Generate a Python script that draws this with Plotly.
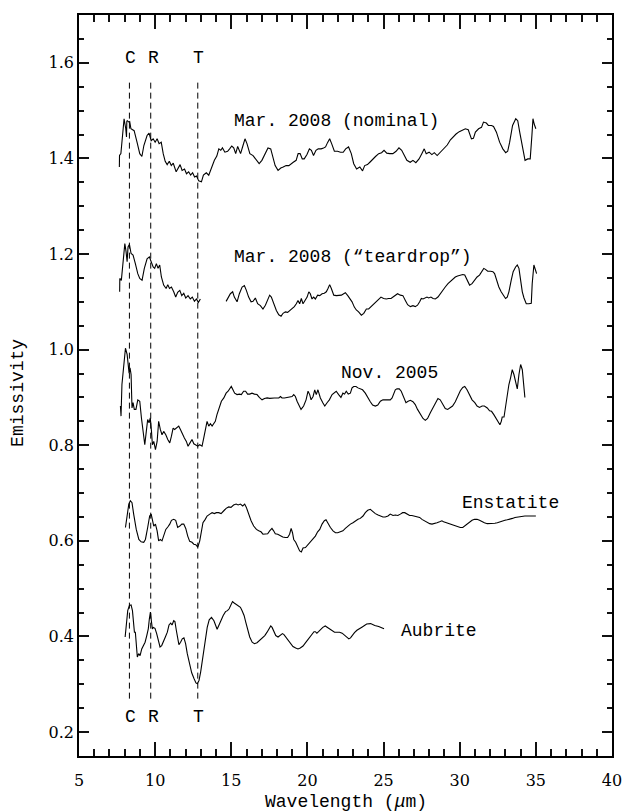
import plotly.graph_objects as go

# ---------------- data ----------------
nominal_x = [7.65, 7.66, 7.75, 7.88, 7.96, 8.07, 8.12, 8.14, 8.17, 8.28,
             8.33, 8.41, 8.62, 8.81, 8.99, 9.13, 9.26, 9.47, 9.60, 9.74,
             9.87, 10.00, 10.13, 10.26, 10.40, 10.53, 10.66, 10.79, 10.93, 11.06,
             11.19, 11.38, 11.51, 11.64, 11.77, 11.93, 12.06, 12.20, 12.33, 12.46,
             12.59, 12.72, 12.86, 13.04, 13.17, 13.36, 13.52, 13.70, 13.89, 14.05,
             14.18, 14.31, 14.42, 14.58, 14.76, 14.89, 15.03, 15.16, 15.29, 15.42,
             15.61, 15.77, 15.90, 16.03, 16.22, 16.43, 16.61, 16.83, 17.01, 17.20,
             17.41, 17.59, 17.72, 17.88, 18.07, 18.25, 18.41, 18.60, 18.78, 18.92,
             19.07, 19.26, 19.39, 19.52, 19.66, 19.79, 19.97, 20.13, 20.26, 20.40,
             20.56, 20.71, 20.90, 21.06, 21.19, 21.32, 21.46, 21.59, 21.77, 21.98,
             22.17, 22.35, 22.51, 22.70, 22.88, 23.04, 23.23, 23.44, 23.62, 23.76,
             23.94, 24.10, 24.29, 24.47, 24.68, 24.87, 25.03, 25.21, 25.40, 25.61,
             25.82, 26.01, 26.19, 26.35, 26.53, 26.75, 26.93, 27.12, 27.33, 27.51,
             27.67, 27.80, 27.99, 28.17, 28.33, 28.52, 28.70, 28.92, 29.18, 29.39,
             29.58, 29.76, 29.97, 30.19, 30.37, 30.56, 30.77, 30.90, 31.03, 31.24,
             31.43, 31.56, 31.75, 31.88, 32.09, 32.22, 32.41, 32.62, 32.83, 33.02,
             33.15, 33.28, 33.47, 33.68, 33.81, 33.94, 34.13, 34.29, 34.47, 34.63,
             34.74, 34.81, 34.89, 35.00]
nominal_y = [1.382, 1.406, 1.410, 1.469, 1.483, 1.462, 1.445, 1.478, 1.479, 1.476,
             1.477, 1.462, 1.458, 1.434, 1.410, 1.404, 1.427, 1.448, 1.453, 1.437,
             1.441, 1.434, 1.441, 1.431, 1.434, 1.410, 1.394, 1.387, 1.394, 1.385,
             1.390, 1.372, 1.379, 1.387, 1.375, 1.378, 1.368, 1.372, 1.365, 1.370,
             1.361, 1.363, 1.353, 1.351, 1.365, 1.370, 1.365, 1.382, 1.396, 1.405,
             1.420, 1.417, 1.422, 1.413, 1.415, 1.420, 1.426, 1.422, 1.410, 1.425,
             1.410, 1.427, 1.441, 1.431, 1.410, 1.406, 1.399, 1.389, 1.396, 1.410,
             1.422, 1.420, 1.406, 1.385, 1.375, 1.380, 1.382, 1.385, 1.385, 1.389,
             1.392, 1.396, 1.410, 1.410, 1.399, 1.399, 1.408, 1.420, 1.417, 1.406,
             1.417, 1.420, 1.420, 1.422, 1.424, 1.433, 1.441, 1.431, 1.415, 1.415,
             1.413, 1.413, 1.420, 1.424, 1.410, 1.389, 1.378, 1.382, 1.374, 1.385,
             1.387, 1.392, 1.399, 1.404, 1.410, 1.412, 1.417, 1.411, 1.410, 1.410,
             1.415, 1.422, 1.417, 1.406, 1.396, 1.392, 1.396, 1.391, 1.399, 1.410,
             1.420, 1.410, 1.413, 1.408, 1.412, 1.406, 1.412, 1.420, 1.428, 1.439,
             1.446, 1.451, 1.456, 1.460, 1.462, 1.460, 1.441, 1.442, 1.455, 1.462,
             1.465, 1.476, 1.474, 1.469, 1.469, 1.467, 1.455, 1.434, 1.420, 1.412,
             1.415, 1.434, 1.469, 1.483, 1.479, 1.455, 1.420, 1.396, 1.399, 1.399,
             1.448, 1.483, 1.472, 1.462]

teardrop_a_x = [7.67, 7.68, 7.78, 7.94, 8.01, 8.09, 8.16, 8.22, 8.31, 8.42,
                8.55, 8.70, 8.86, 8.99, 9.14, 9.29, 9.47, 9.62, 9.76, 9.87,
                9.97, 10.08, 10.19, 10.30, 10.41, 10.56, 10.72, 10.83, 10.94, 11.07,
                11.22, 11.35, 11.48, 11.62, 11.75, 11.88, 12.01, 12.16, 12.31, 12.44,
                12.58, 12.71, 12.84, 12.97]
teardrop_a_y = [1.121, 1.149, 1.145, 1.201, 1.222, 1.205, 1.184, 1.215, 1.220, 1.201,
                1.198, 1.180, 1.159, 1.149, 1.145, 1.170, 1.190, 1.194, 1.180, 1.173,
                1.170, 1.180, 1.170, 1.177, 1.152, 1.135, 1.128, 1.136, 1.128, 1.131,
                1.121, 1.110, 1.120, 1.124, 1.113, 1.118, 1.108, 1.113, 1.106, 1.110,
                1.101, 1.106, 1.099, 1.106]

teardrop_b_x = [14.66, 14.79, 14.94, 15.09, 15.20, 15.38, 15.53, 15.71, 15.86, 15.99,
                16.14, 16.30, 16.43, 16.58, 16.73, 16.91, 17.08, 17.24, 17.39, 17.52,
                17.63, 17.78, 17.96, 18.12, 18.27, 18.40, 18.55, 18.70, 18.83, 18.99,
                19.14, 19.27, 19.38, 19.49, 19.60, 19.71, 19.82, 19.98, 20.09, 20.19,
                20.30, 20.41, 20.52, 20.67, 20.81, 20.96, 21.11, 21.24, 21.35, 21.46,
                21.57, 21.73, 21.90, 22.05, 22.23, 22.38, 22.49, 22.65, 22.78, 22.93,
                23.08, 23.21, 23.36, 23.54, 23.70, 23.87, 24.02, 24.17, 24.35, 24.51,
                24.68, 24.83, 25.00, 25.18, 25.33, 25.49, 25.62, 25.77, 25.92, 26.10,
                26.27, 26.43, 26.58, 26.76, 26.93, 27.08, 27.23, 27.37, 27.48, 27.59,
                27.74, 27.85, 27.96, 28.11, 28.25, 28.40, 28.57, 28.72, 28.90, 29.05,
                29.23, 29.38, 29.56, 29.71, 29.86, 30.04, 30.20, 30.33, 30.48, 30.65,
                30.81, 30.97, 31.14, 31.30, 31.43, 31.58, 31.69, 31.84, 32.03, 32.18,
                32.29, 32.42, 32.57, 32.72, 32.91, 33.01, 33.12, 33.23, 33.38, 33.51,
                33.67, 33.78, 33.89, 34.00, 34.11, 34.22, 34.37, 34.54, 34.70, 34.76,
                34.87, 34.98, 35.05]
teardrop_b_y = [1.101, 1.110, 1.117, 1.121, 1.110, 1.100, 1.117, 1.131, 1.134, 1.124,
                1.110, 1.100, 1.101, 1.108, 1.096, 1.092, 1.085, 1.093, 1.103, 1.114,
                1.110, 1.096, 1.082, 1.073, 1.070, 1.076, 1.079, 1.078, 1.082, 1.085,
                1.090, 1.096, 1.103, 1.096, 1.107, 1.096, 1.101, 1.110, 1.121, 1.117,
                1.106, 1.110, 1.106, 1.114, 1.113, 1.117, 1.118, 1.121, 1.128, 1.136,
                1.128, 1.114, 1.113, 1.113, 1.114, 1.117, 1.119, 1.113, 1.107, 1.100,
                1.089, 1.083, 1.079, 1.072, 1.076, 1.085, 1.085, 1.090, 1.096, 1.101,
                1.106, 1.110, 1.107, 1.106, 1.107, 1.107, 1.110, 1.114, 1.117, 1.114,
                1.113, 1.103, 1.094, 1.090, 1.092, 1.090, 1.093, 1.100, 1.107, 1.106,
                1.108, 1.110, 1.108, 1.110, 1.107, 1.106, 1.110, 1.117, 1.124, 1.131,
                1.138, 1.143, 1.149, 1.152, 1.154, 1.156, 1.157, 1.156, 1.145, 1.135,
                1.138, 1.145, 1.152, 1.156, 1.164, 1.170, 1.168, 1.164, 1.164, 1.163,
                1.159, 1.145, 1.131, 1.121, 1.113, 1.107, 1.110, 1.121, 1.145, 1.163,
                1.173, 1.177, 1.170, 1.145, 1.121, 1.108, 1.096, 1.096, 1.097, 1.138,
                1.177, 1.166, 1.159]

nov2005_x = [7.72, 7.74, 7.76, 7.82, 7.94, 8.05, 8.16, 8.22, 8.29, 8.35,
             8.42, 8.48, 8.55, 8.63, 8.74, 8.86, 8.99, 9.10, 9.21, 9.32,
             9.42, 9.51, 9.60, 9.68, 9.76, 9.82, 9.91, 10.02, 10.13, 10.23,
             10.34, 10.45, 10.56, 10.70, 10.83, 10.96, 11.07, 11.18, 11.28, 11.39,
             11.55, 11.66, 11.79, 11.92, 12.05, 12.16, 12.29, 12.42, 12.54, 12.67,
             12.80, 12.93, 13.08, 13.19, 13.30, 13.41, 13.52, 13.63, 13.74, 13.85,
             13.95, 14.06, 14.21, 14.35, 14.51, 14.66, 14.79, 14.90, 15.00, 15.11,
             15.22, 15.38, 15.53, 15.66, 15.81, 15.94, 16.07, 16.21, 16.36, 16.52,
             16.69, 16.84, 17.02, 17.18, 17.35, 17.52, 17.67, 17.83, 17.96, 18.12,
             18.23, 18.33, 18.49, 18.66, 18.83, 18.99, 19.10, 19.21, 19.32, 19.45,
             19.58, 19.75, 19.91, 20.04, 20.15, 20.24, 20.37, 20.48, 20.58, 20.69,
             20.85, 21.01, 21.14, 21.29, 21.44, 21.62, 21.77, 21.89, 22.05, 22.20,
             22.33, 22.44, 22.55, 22.68, 22.82, 22.93, 23.04, 23.19, 23.32, 23.47,
             23.62, 23.80, 23.96, 24.13, 24.28, 24.46, 24.62, 24.79, 24.96, 25.11,
             25.29, 25.44, 25.56, 25.66, 25.77, 25.88, 26.03, 26.16, 26.32, 26.47,
             26.61, 26.76, 26.93, 27.08, 27.23, 27.42, 27.59, 27.74, 27.89, 28.07,
             28.25, 28.40, 28.57, 28.72, 28.90, 29.05, 29.21, 29.38, 29.53, 29.71,
             29.86, 30.04, 30.20, 30.33, 30.48, 30.65, 30.81, 30.99, 31.14, 31.30,
             31.47, 31.62, 31.81, 31.96, 32.09, 32.24, 32.39, 32.53, 32.64, 32.73,
             32.79, 32.91, 33.01, 33.12, 33.23, 33.34, 33.45, 33.56, 33.68, 33.78,
             33.89, 34.00, 34.11, 34.22, 34.28]
nov2005_y = [0.882, 0.861, 0.861, 0.927, 0.969, 1.003, 0.990, 0.972, 0.951, 0.962,
             0.948, 0.878, 0.889, 0.875, 0.875, 0.895, 0.892, 0.857, 0.822, 0.801,
             0.829, 0.854, 0.847, 0.857, 0.829, 0.801, 0.808, 0.791, 0.808, 0.850,
             0.833, 0.822, 0.829, 0.822, 0.812, 0.805, 0.819, 0.836, 0.833, 0.836,
             0.840, 0.833, 0.822, 0.815, 0.808, 0.798, 0.805, 0.812, 0.803, 0.800,
             0.798, 0.801, 0.798, 0.815, 0.836, 0.850, 0.840, 0.845, 0.840, 0.847,
             0.850, 0.864, 0.878, 0.892, 0.899, 0.909, 0.913, 0.918, 0.923, 0.916,
             0.909, 0.906, 0.907, 0.906, 0.913, 0.913, 0.907, 0.907, 0.909, 0.907,
             0.906, 0.900, 0.895, 0.898, 0.899, 0.898, 0.899, 0.899, 0.899, 0.899,
             0.902, 0.899, 0.899, 0.900, 0.902, 0.902, 0.906, 0.902, 0.892, 0.882,
             0.875, 0.882, 0.895, 0.913, 0.906, 0.895, 0.902, 0.916, 0.906, 0.916,
             0.899, 0.889, 0.882, 0.889, 0.895, 0.906, 0.911, 0.913, 0.906, 0.900,
             0.909, 0.907, 0.913, 0.907, 0.909, 0.920, 0.923, 0.923, 0.920, 0.918,
             0.916, 0.909, 0.899, 0.891, 0.884, 0.882, 0.884, 0.892, 0.895, 0.895,
             0.895, 0.895, 0.899, 0.909, 0.916, 0.918, 0.918, 0.913, 0.902, 0.889,
             0.892, 0.894, 0.891, 0.885, 0.875, 0.864, 0.856, 0.852, 0.856, 0.868,
             0.878, 0.889, 0.898, 0.895, 0.885, 0.877, 0.875, 0.878, 0.882, 0.891,
             0.902, 0.914, 0.921, 0.923, 0.916, 0.906, 0.895, 0.889, 0.882, 0.879,
             0.882, 0.882, 0.878, 0.872, 0.871, 0.864, 0.856, 0.849, 0.843, 0.850,
             0.859, 0.859, 0.882, 0.909, 0.927, 0.941, 0.958, 0.948, 0.934, 0.918,
             0.948, 0.969, 0.958, 0.927, 0.900]

enstatite_x = [8.05, 8.16, 8.27, 8.37, 8.48, 8.59, 8.76, 8.93, 9.08, 9.25,
               9.36, 9.51, 9.64, 9.74, 9.80, 9.91, 10.02, 10.13, 10.23, 10.34,
               10.45, 10.56, 10.70, 10.83, 10.96, 11.07, 11.22, 11.35, 11.48, 11.62,
               11.75, 11.88, 12.01, 12.14, 12.27, 12.42, 12.54, 12.67, 12.80, 12.93,
               13.02, 13.14, 13.29, 13.41, 13.59, 13.74, 13.89, 14.02, 14.17, 14.33,
               14.51, 14.66, 14.83, 14.98, 15.15, 15.32, 15.45, 15.60, 15.75, 15.88,
               15.99, 16.14, 16.30, 16.47, 16.65, 16.80, 16.95, 17.08, 17.24, 17.39,
               17.52, 17.67, 17.78, 17.89, 18.05, 18.22, 18.38, 18.55, 18.70, 18.83,
               18.93, 19.02, 19.10, 19.23, 19.36, 19.49, 19.60, 19.71, 19.87, 19.98,
               20.09, 20.24, 20.37, 20.52, 20.67, 20.81, 20.96, 21.11, 21.22, 21.35,
               21.51, 21.68, 21.84, 21.99, 22.16, 22.33, 22.49, 22.65, 22.82, 22.99,
               23.15, 23.32, 23.47, 23.65, 23.80, 23.96, 24.13, 24.28, 24.46, 24.64,
               24.79, 24.96, 25.11, 25.29, 25.44, 25.62, 25.77, 25.94, 26.10, 26.25,
               26.39, 26.54, 26.71, 26.86, 27.04, 27.20, 27.37, 27.52, 27.70, 27.85,
               28.03, 28.18, 28.33, 28.51, 28.68, 28.83, 28.94, 29.12, 29.27, 29.43,
               29.60, 29.77, 29.92, 30.04, 30.20, 30.33, 30.48, 30.65, 30.81, 30.97,
               31.14, 31.30, 31.47, 31.62, 31.81, 31.96, 32.13, 32.31, 32.47, 32.64,
               32.79, 32.97, 33.12, 33.29, 33.46, 33.63, 33.78, 33.95, 34.11, 34.28,
               34.44, 34.66, 35.00]
enstatite_y = [0.628, 0.656, 0.677, 0.684, 0.680, 0.656, 0.624, 0.603, 0.598, 0.597,
               0.603, 0.628, 0.652, 0.656, 0.645, 0.631, 0.635, 0.621, 0.600, 0.603,
               0.600, 0.610, 0.624, 0.629, 0.635, 0.643, 0.645, 0.643, 0.628, 0.631,
               0.635, 0.635, 0.626, 0.610, 0.599, 0.597, 0.593, 0.592, 0.587, 0.600,
               0.621, 0.638, 0.645, 0.652, 0.656, 0.659, 0.657, 0.659, 0.659, 0.657,
               0.663, 0.668, 0.671, 0.670, 0.675, 0.677, 0.675, 0.677, 0.673, 0.677,
               0.670, 0.656, 0.642, 0.631, 0.624, 0.621, 0.619, 0.614, 0.615, 0.615,
               0.621, 0.626, 0.621, 0.615, 0.614, 0.610, 0.608, 0.607, 0.607, 0.614,
               0.626, 0.617, 0.603, 0.597, 0.587, 0.579, 0.577, 0.585, 0.586, 0.590,
               0.594, 0.599, 0.603, 0.610, 0.619, 0.624, 0.635, 0.642, 0.644, 0.636,
               0.628, 0.621, 0.617, 0.617, 0.619, 0.621, 0.626, 0.631, 0.635, 0.638,
               0.642, 0.645, 0.647, 0.652, 0.659, 0.664, 0.666, 0.661, 0.657, 0.654,
               0.652, 0.650, 0.650, 0.652, 0.656, 0.653, 0.654, 0.653, 0.656, 0.659,
               0.659, 0.656, 0.653, 0.653, 0.652, 0.651, 0.649, 0.645, 0.642, 0.638,
               0.636, 0.635, 0.636, 0.638, 0.640, 0.642, 0.640, 0.638, 0.636, 0.635,
               0.633, 0.631, 0.629, 0.628, 0.628, 0.631, 0.636, 0.640, 0.643, 0.645,
               0.645, 0.643, 0.640, 0.638, 0.636, 0.636, 0.636, 0.637, 0.638, 0.640,
               0.642, 0.643, 0.644, 0.645, 0.647, 0.649, 0.650, 0.651, 0.652, 0.652,
               0.652, 0.652, 0.652]

aubrite_x = [8.03, 8.09, 8.20, 8.31, 8.42, 8.51, 8.57, 8.64, 8.70, 8.77,
             8.83, 8.92, 9.01, 9.12, 9.23, 9.34, 9.45, 9.55, 9.62, 9.69,
             9.75, 9.82, 9.88, 9.99, 10.10, 10.21, 10.32, 10.43, 10.54, 10.67,
             10.80, 10.91, 11.02, 11.11, 11.22, 11.30, 11.39, 11.48, 11.56, 11.67,
             11.78, 11.89, 12.00, 12.11, 12.24, 12.40, 12.55, 12.68, 12.77, 12.88,
             12.99, 13.12, 13.27, 13.42, 13.55, 13.70, 13.86, 13.99, 14.07, 14.18,
             14.31, 14.47, 14.62, 14.75, 14.86, 14.97, 15.08, 15.19, 15.34, 15.49,
             15.60, 15.71, 15.84, 15.95, 16.06, 16.21, 16.37, 16.52, 16.69, 16.87,
             17.04, 17.20, 17.35, 17.48, 17.59, 17.68, 17.79, 17.92, 18.07, 18.22,
             18.36, 18.46, 18.57, 18.72, 18.88, 19.05, 19.23, 19.38, 19.53, 19.71,
             19.88, 20.03, 20.19, 20.32, 20.43, 20.52, 20.62, 20.73, 20.86, 21.01,
             21.17, 21.30, 21.45, 21.63, 21.78, 21.96, 22.11, 22.28, 22.44, 22.59,
             22.72, 22.83, 22.94, 23.09, 23.25, 23.38, 23.60, 23.89, 24.15, 24.42,
             24.68, 25.03]
aubrite_y = [0.399, 0.423, 0.454, 0.465, 0.466, 0.454, 0.430, 0.409, 0.409, 0.381,
             0.357, 0.364, 0.360, 0.374, 0.381, 0.388, 0.402, 0.416, 0.437, 0.451,
             0.433, 0.416, 0.419, 0.417, 0.406, 0.388, 0.378, 0.381, 0.388, 0.399,
             0.409, 0.424, 0.428, 0.424, 0.433, 0.431, 0.413, 0.392, 0.383, 0.388,
             0.395, 0.397, 0.385, 0.364, 0.343, 0.324, 0.312, 0.303, 0.301, 0.308,
             0.326, 0.357, 0.388, 0.419, 0.435, 0.440, 0.433, 0.419, 0.415, 0.423,
             0.433, 0.444, 0.452, 0.454, 0.458, 0.466, 0.473, 0.470, 0.466, 0.463,
             0.461, 0.454, 0.444, 0.430, 0.416, 0.399, 0.388, 0.385, 0.387, 0.392,
             0.397, 0.402, 0.409, 0.416, 0.422, 0.419, 0.410, 0.402, 0.399, 0.402,
             0.406, 0.404, 0.399, 0.392, 0.385, 0.379, 0.376, 0.374, 0.376, 0.380,
             0.387, 0.394, 0.401, 0.406, 0.410, 0.410, 0.407, 0.410, 0.415, 0.419,
             0.422, 0.419, 0.415, 0.411, 0.409, 0.409, 0.409, 0.407, 0.402, 0.397,
             0.395, 0.397, 0.402, 0.408, 0.413, 0.415, 0.420, 0.426, 0.427, 0.423,
             0.421, 0.416]

# band positions (C, R, T) and the extent of their dashed markers
band_names = ["C", "R", "T"]
band_x = [8.31, 9.71, 12.80]
band_label_x = [8.35, 9.87, 12.83]
band_y_low = 0.270
band_y_high = 1.563
band_label_y_top = 1.611
band_label_y_bottom = 0.231

# series labels
series_labels = ["Mar. 2008 (nominal)", "Mar. 2008 (\u201cteardrop\u201d)",
                 "Nov. 2005", "Enstatite", "Aubrite"]
series_label_x = [15.03, 15.05, 22.05, 30.04, 26.0]
series_label_y = [1.479, 1.193, 0.951, 0.680, 0.411]

x_range = [5, 40]
y_range = [0.15, 1.7]

# ---------------- figure ----------------
MONO = "Liberation Mono"
SERIF = "DejaVu Serif"
line_style = dict(color="black", width=1.1)

fig = go.Figure()
series = [(nominal_x, nominal_y), (teardrop_a_x, teardrop_a_y),
          (teardrop_b_x, teardrop_b_y), (nov2005_x, nov2005_y),
          (enstatite_x, enstatite_y), (aubrite_x, aubrite_y)]
for sx, sy in series:
    fig.add_trace(go.Scatter(x=sx, y=sy, mode="lines", line=line_style,
                             showlegend=False, hoverinfo="skip"))

for bx in band_x:
    fig.add_trace(go.Scatter(x=[bx, bx], y=[band_y_low, band_y_high], mode="lines",
                             line=dict(color="black", width=1, dash="6px,4px"),
                             showlegend=False, hoverinfo="skip"))

annotations = []
for name, lx in zip(band_names, band_label_x):
    for ly in (band_label_y_top, band_label_y_bottom):
        annotations.append(dict(x=lx, y=ly, xref="x", yref="y", text=name,
                                showarrow=False, xanchor="center", yanchor="middle",
                                font=dict(family=MONO, size=18, color="black")))
for txt, lx, ly in zip(series_labels, series_label_x, series_label_y):
    annotations.append(dict(x=lx, y=ly, xref="x", yref="y", text=txt,
                            showarrow=False, xanchor="left", yanchor="middle",
                            font=dict(family=MONO, size=18, color="black")))
annotations.append(dict(x=0.5, y=-0.062, xref="paper", yref="paper",
                        text="Wavelength (<i>\u03bc</i>m)", showarrow=False,
                        xanchor="center", yanchor="middle",
                        font=dict(family=MONO, size=18, color="black")))
annotations.append(dict(x=-0.1145, y=0.49, xref="paper", yref="paper",
                        text="Emissivity", showarrow=False, textangle=-90,
                        xanchor="center", yanchor="middle",
                        font=dict(family=MONO, size=18, color="black")))

# the page body adds an 8px margin, so the figure is sized to end at 632x812
fig.update_layout(
    width=624, height=804,
    margin=dict(l=71, r=20, t=5, b=56),
    paper_bgcolor="white", plot_bgcolor="white",
    annotations=annotations,
    showlegend=False,
)
fig.update_xaxes(
    range=x_range, tick0=5, dtick=5, ticks="inside", ticklen=14, tickwidth=1.5,
    tickcolor="#111111", showline=True, linewidth=1.5, linecolor="black",
    mirror="allticks", showgrid=False, zeroline=False,
    tickfont=dict(family=SERIF, size=16, color="black"), ticklabelstandoff=9,
    minor=dict(ticks="inside", ticklen=7, dtick=1, tickcolor="#111111"),
)
fig.update_yaxes(
    range=y_range, tick0=0, dtick=0.2, tickformat=".1f",
    ticks="inside", ticklen=10, tickwidth=1.5, tickcolor="#111111", showline=True,
    linewidth=1.5, linecolor="black", mirror="allticks", showgrid=False,
    zeroline=False, tickfont=dict(family=SERIF, size=16, color="black"),
    minor=dict(ticks="inside", ticklen=5, dtick=0.05, tickcolor="#111111"),
)

fig.write_html("out.html")
